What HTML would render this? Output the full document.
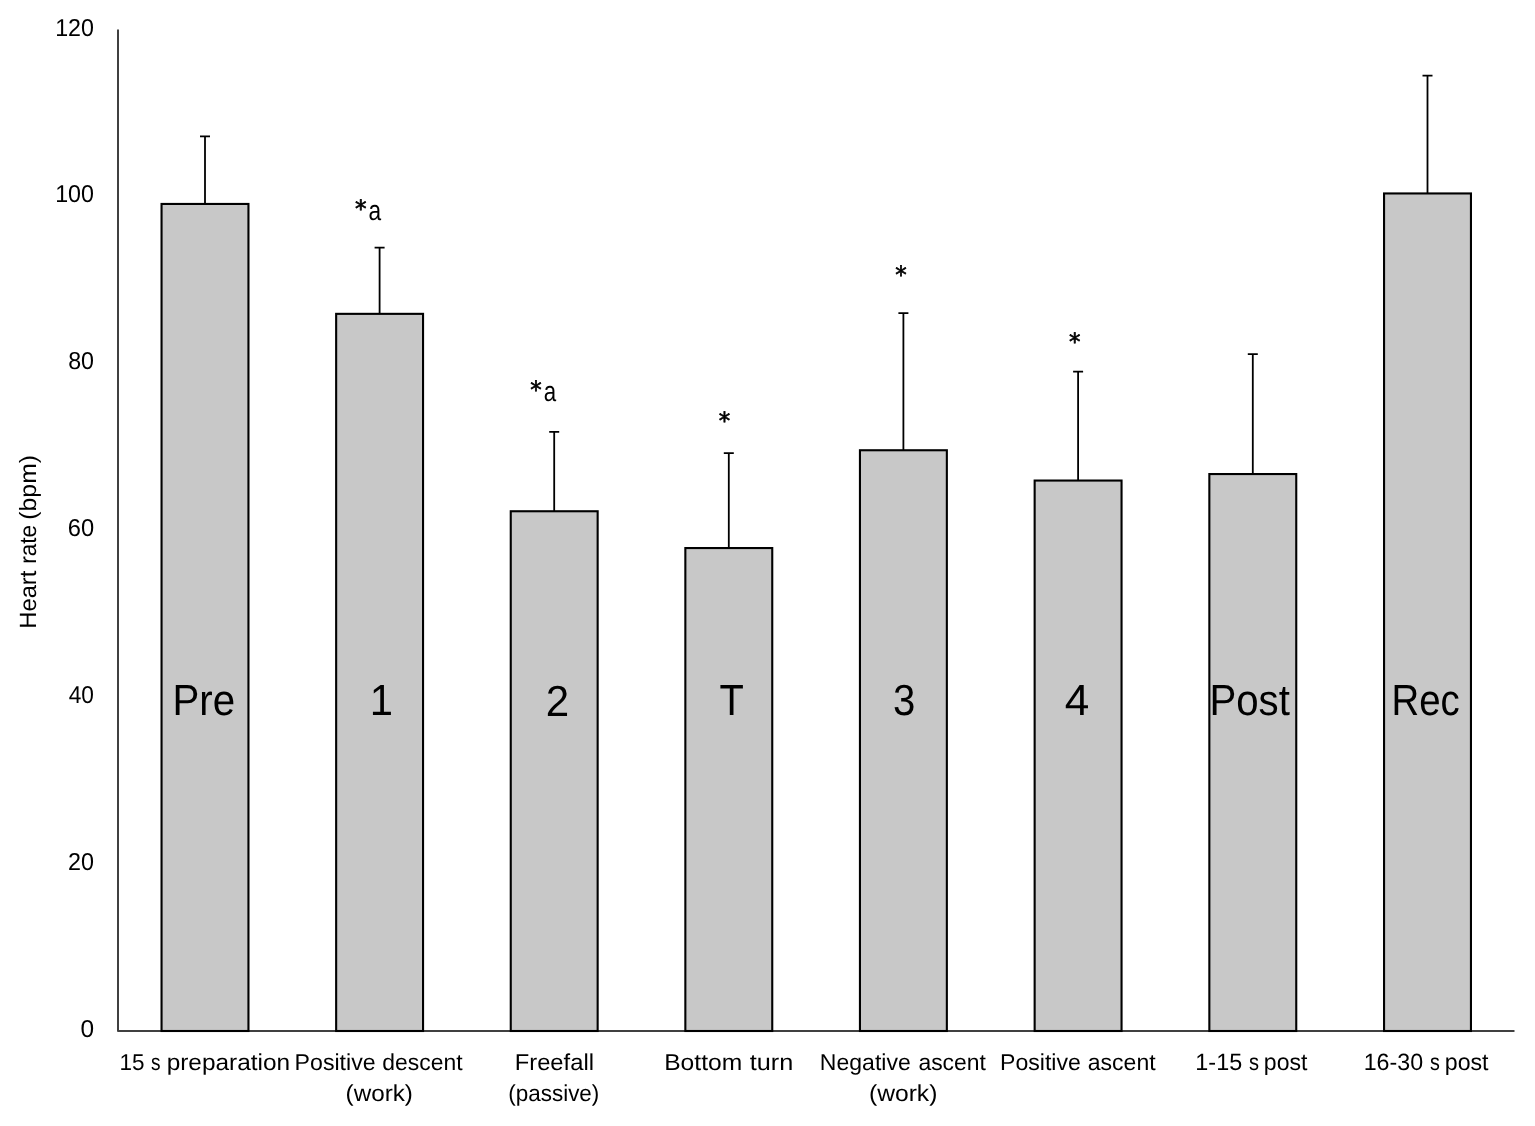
<!DOCTYPE html>
<html lang="en"><head><meta charset="utf-8"><title>Heart rate chart</title>
<style>html,body{margin:0;padding:0;background:#fff}svg{display:block}text{fill:#000;text-rendering:geometricPrecision}</style></head><body>
<svg width="1535" height="1126" viewBox="0 0 1535 1126">
<rect width="1535" height="1126" fill="#fff"/>
<path d="M118 29.5V1031H1514.5" stroke="#404040" stroke-width="2" fill="none" stroke-linejoin="round"/>
<rect x="161.55" y="203.95" width="86.90" height="827.05" fill="#c8c8c8" stroke="#000" stroke-width="2.10"/>
<path d="M205.00 203.95V136.30M200.00 136.30H210.00" stroke="#000" stroke-width="1.8" fill="none"/>
<rect x="336.15" y="313.85" width="86.90" height="717.15" fill="#c8c8c8" stroke="#000" stroke-width="2.10"/>
<path d="M379.60 313.85V247.60M374.60 247.60H384.60" stroke="#000" stroke-width="1.8" fill="none"/>
<rect x="510.75" y="511.25" width="86.90" height="519.75" fill="#c8c8c8" stroke="#000" stroke-width="2.10"/>
<path d="M554.20 511.25V431.90M549.20 431.90H559.20" stroke="#000" stroke-width="1.8" fill="none"/>
<rect x="685.35" y="548.05" width="86.90" height="482.95" fill="#c8c8c8" stroke="#000" stroke-width="2.10"/>
<path d="M728.80 548.05V453.20M723.80 453.20H733.80" stroke="#000" stroke-width="1.8" fill="none"/>
<rect x="859.95" y="450.25" width="86.90" height="580.75" fill="#c8c8c8" stroke="#000" stroke-width="2.10"/>
<path d="M903.40 450.25V313.20M898.40 313.20H908.40" stroke="#000" stroke-width="1.8" fill="none"/>
<rect x="1034.65" y="480.55" width="86.90" height="550.45" fill="#c8c8c8" stroke="#000" stroke-width="2.10"/>
<path d="M1078.10 480.55V371.70M1073.10 371.70H1083.10" stroke="#000" stroke-width="1.8" fill="none"/>
<rect x="1209.35" y="474.05" width="86.90" height="556.95" fill="#c8c8c8" stroke="#000" stroke-width="2.10"/>
<path d="M1252.80 474.05V354.20M1247.80 354.20H1257.80" stroke="#000" stroke-width="1.8" fill="none"/>
<rect x="1384.05" y="193.45" width="86.90" height="837.55" fill="#c8c8c8" stroke="#000" stroke-width="2.10"/>
<path d="M1427.50 193.45V75.70M1422.50 75.70H1432.50" stroke="#000" stroke-width="1.8" fill="none"/>
<text y="36.00" font-family='"Liberation Sans", sans-serif' font-size="24.50"><tspan x="55.13" textLength="38.79" lengthAdjust="spacingAndGlyphs">120</tspan></text>
<text y="202.00" font-family='"Liberation Sans", sans-serif' font-size="24.50"><tspan x="55.13" textLength="38.79" lengthAdjust="spacingAndGlyphs">100</tspan></text>
<text y="369.00" font-family='"Liberation Sans", sans-serif' font-size="24.50"><tspan x="68.14" textLength="25.85" lengthAdjust="spacingAndGlyphs">80</tspan></text>
<text y="536.00" font-family='"Liberation Sans", sans-serif' font-size="24.50"><tspan x="67.73" textLength="26.36" lengthAdjust="spacingAndGlyphs">60</tspan></text>
<text y="703.00" font-family='"Liberation Sans", sans-serif' font-size="24.50"><tspan x="68.66" textLength="25.28" lengthAdjust="spacingAndGlyphs">40</tspan></text>
<text y="870.00" font-family='"Liberation Sans", sans-serif' font-size="24.50"><tspan x="67.95" textLength="25.96" lengthAdjust="spacingAndGlyphs">20</tspan></text>
<text y="1037.00" font-family='"Liberation Sans", sans-serif' font-size="24.50"><tspan x="80.47" textLength="13.60" lengthAdjust="spacingAndGlyphs">0</tspan></text>
<text y="1070.00" font-family='"Liberation Sans", sans-serif' font-size="23.00"><tspan x="119.52" textLength="25.03" lengthAdjust="spacingAndGlyphs">15</tspan> <tspan x="150.98" textLength="9.54" lengthAdjust="spacingAndGlyphs">s</tspan> <tspan x="166.65" textLength="123.45" lengthAdjust="spacingAndGlyphs">preparation</tspan></text>
<text y="1070.00" font-family='"Liberation Sans", sans-serif' font-size="23.00"><tspan x="294.62" textLength="81.01" lengthAdjust="spacingAndGlyphs">Positive</tspan> <tspan x="382.27" textLength="80.28" lengthAdjust="spacingAndGlyphs">descent</tspan></text>
<text y="1101.00" font-family='"Liberation Sans", sans-serif' font-size="23.00"><tspan x="345.56" textLength="67.40" lengthAdjust="spacingAndGlyphs">(work)</tspan></text>
<text y="1070.00" font-family='"Liberation Sans", sans-serif' font-size="23.00"><tspan x="514.74" textLength="79.23" lengthAdjust="spacingAndGlyphs">Freefall</tspan></text>
<text y="1101.00" font-family='"Liberation Sans", sans-serif' font-size="23.00"><tspan x="508.22" textLength="91.12" lengthAdjust="spacingAndGlyphs">(passive)</tspan></text>
<text y="1070.00" font-family='"Liberation Sans", sans-serif' font-size="23.00"><tspan x="664.20" textLength="78.03" lengthAdjust="spacingAndGlyphs">Bottom</tspan> <tspan x="749.66" textLength="43.55" lengthAdjust="spacingAndGlyphs">turn</tspan></text>
<text y="1070.00" font-family='"Liberation Sans", sans-serif' font-size="23.00"><tspan x="819.87" textLength="90.88" lengthAdjust="spacingAndGlyphs">Negative</tspan> <tspan x="918.42" textLength="67.49" lengthAdjust="spacingAndGlyphs">ascent</tspan></text>
<text y="1101.00" font-family='"Liberation Sans", sans-serif' font-size="23.00"><tspan x="868.96" textLength="68.45" lengthAdjust="spacingAndGlyphs">(work)</tspan></text>
<text y="1070.00" font-family='"Liberation Sans", sans-serif' font-size="23.00"><tspan x="1000.00" textLength="80.88" lengthAdjust="spacingAndGlyphs">Positive</tspan> <tspan x="1087.77" textLength="67.85" lengthAdjust="spacingAndGlyphs">ascent</tspan></text>
<text y="1070.00" font-family='"Liberation Sans", sans-serif' font-size="23.50"><tspan x="1195.36" textLength="46.78" lengthAdjust="spacingAndGlyphs">1-15</tspan> <tspan x="1248.94" textLength="10.02" lengthAdjust="spacingAndGlyphs">s</tspan> <tspan x="1263.87" textLength="43.57" lengthAdjust="spacingAndGlyphs">post</tspan></text>
<text y="1070.00" font-family='"Liberation Sans", sans-serif' font-size="23.50"><tspan x="1363.69" textLength="59.40" lengthAdjust="spacingAndGlyphs">16-30</tspan> <tspan x="1429.98" textLength="9.83" lengthAdjust="spacingAndGlyphs">s</tspan> <tspan x="1444.77" textLength="43.78" lengthAdjust="spacingAndGlyphs">post</tspan></text>
<text y="715.00" font-family='"Liberation Sans", sans-serif' font-size="43.50"><tspan x="172.42" textLength="62.62" lengthAdjust="spacingAndGlyphs">Pre</tspan></text>
<text y="715.00" font-family='"Liberation Sans", sans-serif' font-size="43.50"><tspan x="369.67" textLength="23.23" lengthAdjust="spacingAndGlyphs">1</tspan></text>
<text y="716.00" font-family='"Liberation Sans", sans-serif' font-size="43.50"><tspan x="545.79" textLength="23.42" lengthAdjust="spacingAndGlyphs">2</tspan></text>
<text y="715.00" font-family='"Liberation Sans", sans-serif' font-size="43.50"><tspan x="719.49" textLength="24.33" lengthAdjust="spacingAndGlyphs">T</tspan></text>
<text y="715.00" font-family='"Liberation Sans", sans-serif' font-size="43.50"><tspan x="892.92" textLength="22.33" lengthAdjust="spacingAndGlyphs">3</tspan></text>
<text y="715.00" font-family='"Liberation Sans", sans-serif' font-size="43.50"><tspan x="1064.87" textLength="24.53" lengthAdjust="spacingAndGlyphs">4</tspan></text>
<text y="715.00" font-family='"Liberation Sans", sans-serif' font-size="43.50"><tspan x="1209.44" textLength="80.41" lengthAdjust="spacingAndGlyphs">Post</tspan></text>
<text y="715.00" font-family='"Liberation Sans", sans-serif' font-size="43.50"><tspan x="1391.44" textLength="68.22" lengthAdjust="spacingAndGlyphs">Rec</tspan></text>
<text y="220.00" font-family='"Liberation Sans", sans-serif' font-size="28.20"><tspan x="368.40" textLength="12.64" lengthAdjust="spacingAndGlyphs">a</tspan></text>
<text y="401.00" font-family='"Liberation Sans", sans-serif' font-size="28.20"><tspan x="543.70" textLength="12.43" lengthAdjust="spacingAndGlyphs">a</tspan></text>
<text y="217.00" font-family='"DejaVu Sans", sans-serif' font-size="23.80" stroke="#000" stroke-width="0.7" stroke-linejoin="round"><tspan x="354.97" textLength="11.56" lengthAdjust="spacingAndGlyphs">*</tspan></text>
<text y="398.00" font-family='"DejaVu Sans", sans-serif' font-size="23.80" stroke="#000" stroke-width="0.7" stroke-linejoin="round"><tspan x="530.18" textLength="11.39" lengthAdjust="spacingAndGlyphs">*</tspan></text>
<text y="429.00" font-family='"DejaVu Sans", sans-serif' font-size="23.80" stroke="#000" stroke-width="0.7" stroke-linejoin="round"><tspan x="718.76" textLength="11.48" lengthAdjust="spacingAndGlyphs">*</tspan></text>
<text y="283.00" font-family='"DejaVu Sans", sans-serif' font-size="23.80" stroke="#000" stroke-width="0.7" stroke-linejoin="round"><tspan x="895.24" textLength="11.44" lengthAdjust="spacingAndGlyphs">*</tspan></text>
<text y="350.00" font-family='"DejaVu Sans", sans-serif' font-size="23.80" stroke="#000" stroke-width="0.7" stroke-linejoin="round"><tspan x="1069.11" textLength="11.46" lengthAdjust="spacingAndGlyphs">*</tspan></text>
<text transform="translate(36.40 0) rotate(-90)" font-family='"Liberation Sans", sans-serif' font-size="23.50"><tspan x="-628.78" textLength="58.17" lengthAdjust="spacingAndGlyphs">Heart</tspan> <tspan x="-563.71" textLength="38.87" lengthAdjust="spacingAndGlyphs">rate</tspan> <tspan x="-519.73" textLength="64.80" lengthAdjust="spacingAndGlyphs">(bpm)</tspan></text>
</svg></body></html>
